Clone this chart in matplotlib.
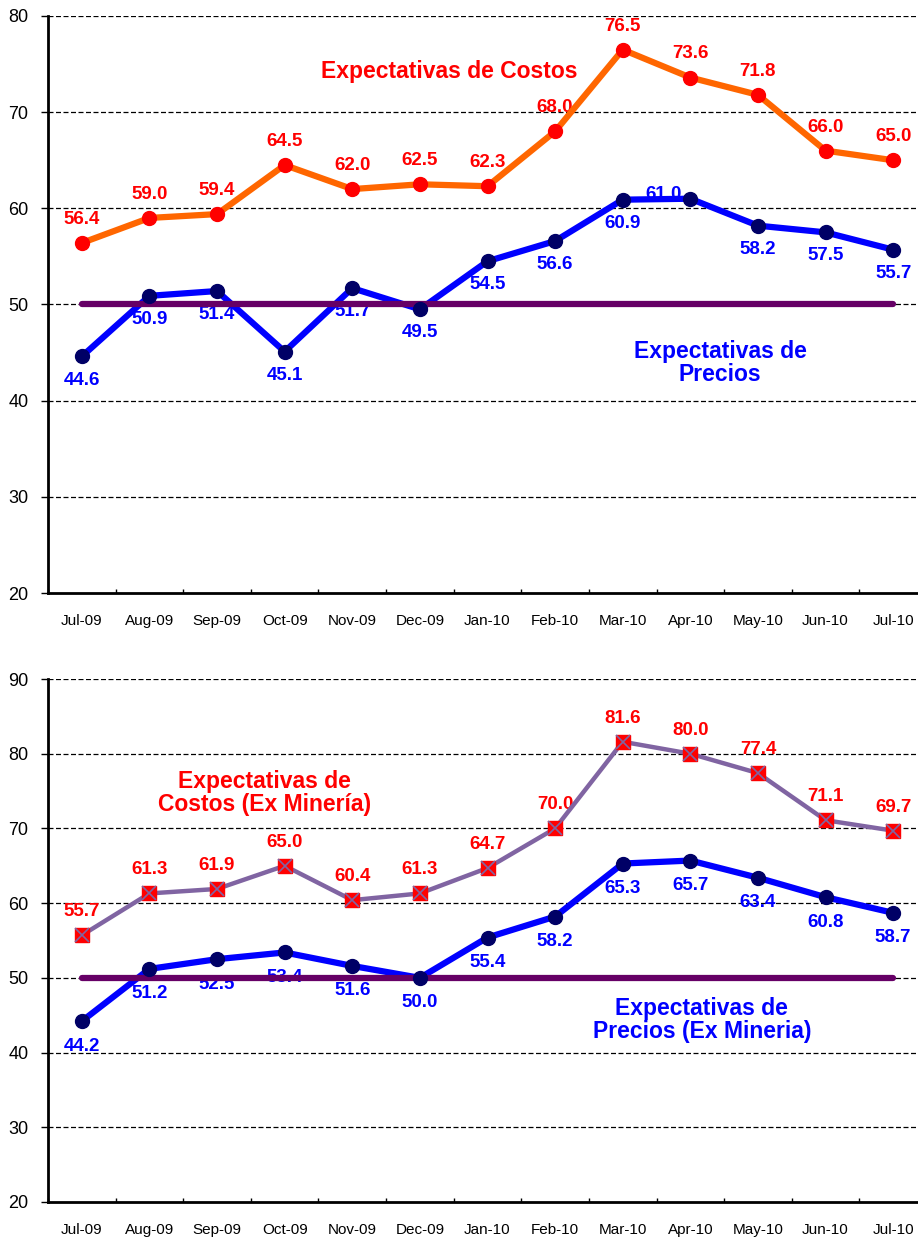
import matplotlib

matplotlib.use("Agg")
import matplotlib.pyplot as plt
import numpy as np

plt.rcParams["font.family"] = ["Liberation Sans", "DejaVu Sans"]

MONTHS = ["Jul-09", "Aug-09", "Sep-09", "Oct-09", "Nov-09", "Dec-09", "Jan-10",
          "Feb-10", "Mar-10", "Apr-10", "May-10", "Jun-10", "Jul-10"]

COSTOS = [56.4, 59.0, 59.4, 64.5, 62.0, 62.5, 62.3, 68.0, 76.5, 73.6, 71.8, 66.0, 65.0]
PRECIOS = [44.6, 50.9, 51.4, 45.1, 51.7, 49.5, 54.5, 56.6, 60.9, 61.0, 58.2, 57.5, 55.7]

COSTOS_EXMIN = [55.7, 61.3, 61.9, 65.0, 60.4, 61.3, 64.7, 70.0, 81.6, 80.0, 77.4, 71.1, 69.7]
PRECIOS_EXMIN = [44.2, 51.2, 52.5, 53.4, 51.6, 50.0, 55.4, 58.2, 65.3, 65.7, 63.4, 60.8, 58.7]

NEUTRAL = 50

RED = "#FF0000"
BLUE = "#0000FF"
NAVY = "#000066"
ORANGE = "#FF6600"
LAVENDER = "#8064A2"
PLUM = "#660066"


def setup_axis(ax, ymin, ymax):
    n = len(MONTHS)
    ax.set_xlim(-0.5, n - 0.5)
    ax.set_ylim(ymin, ymax)
    ax.set_yticks(np.arange(ymin, ymax + 1, 10))
    ax.set_xticks(np.arange(n + 1) - 0.5)
    ax.set_xticklabels([])
    ax.set_xticks(np.arange(n), minor=True)
    ax.set_xticklabels(MONTHS, minor=True, fontsize=11)
    ax.tick_params(axis="x", which="minor", length=0, pad=15)
    ax.tick_params(axis="x", which="major", length=3, direction="in", width=1)
    ax.tick_params(axis="y", length=5, width=1, labelsize=13, pad=9)
    for side in ("top", "right"):
        ax.spines[side].set_visible(False)
    ax.spines["left"].set_linewidth(2)
    ax.spines["bottom"].set_linewidth(2)
    for y in np.arange(ymin + 10, ymax + 1, 10):
        ax.axhline(y, color="black", linestyle=(0, (4, 2)), linewidth=0.9, zorder=0)


def label_points(ax, values, color, dy, special=None):
    special = special or {}
    for i, v in enumerate(values):
        off = special.get(i, (0, dy))
        ax.annotate(f"{v:.1f}", (i, v), xytext=off, textcoords="offset points",
                    ha="center", va="center", color=color, fontsize=13.5,
                    fontweight="bold", zorder=1)


fig = plt.figure(figsize=(9.18, 12.37), dpi=100)
x = np.arange(len(MONTHS))

# ---- panel superior
ax1 = fig.add_axes([48 / 918, 1 - 593 / 1237, 879 / 918, 577 / 1237])
setup_axis(ax1, 20, 80)
ax1.plot(x, COSTOS, color=ORANGE, linewidth=4.5, zorder=2)
ax1.plot(x, COSTOS, linestyle="none", marker="o", markersize=10,
         color=RED, zorder=4)
ax1.plot(x, PRECIOS, color=BLUE, linewidth=4.5, zorder=2)
ax1.plot(x, [NEUTRAL] * len(x), color=PLUM, linewidth=4.5, zorder=3,
         solid_capstyle="round")
ax1.plot(x, PRECIOS, linestyle="none", marker="o", markersize=10,
         color=NAVY, zorder=4)
label_points(ax1, COSTOS, RED, 17)
label_points(ax1, PRECIOS, BLUE, -17, special={9: (-19, 3)})
ax1.text(5.43, 74.2, "Expectativas de Costos", color=RED, fontsize=16.5,
         fontweight="bold", ha="center", va="center")
ax1.text(9.44, 43.9, "Expectativas de\nPrecios", color=BLUE, fontsize=16.5,
         fontweight="bold", ha="center", va="center", linespacing=1.0)

# ---- panel inferior
ax2 = fig.add_axes([48 / 918, 1 - 1202 / 1237, 879 / 918, 523 / 1237])
setup_axis(ax2, 20, 90)
ax2.plot(x, COSTOS_EXMIN, color=LAVENDER, linewidth=3.2, zorder=2)
ax2.plot(x, COSTOS_EXMIN, linestyle="none", marker="s", markersize=10,
         color=RED, zorder=4)
ax2.plot(x, COSTOS_EXMIN, linestyle="none", marker="x", markersize=10,
         color=LAVENDER, markeredgewidth=1.2, zorder=5)
ax2.plot(x, PRECIOS_EXMIN, color=BLUE, linewidth=4.5, zorder=2)
ax2.plot(x, [NEUTRAL] * len(x), color=PLUM, linewidth=4.5, zorder=3,
         solid_capstyle="round")
ax2.plot(x, PRECIOS_EXMIN, linestyle="none", marker="o", markersize=10,
         color=NAVY, zorder=4)
label_points(ax2, COSTOS_EXMIN, RED, 17)
label_points(ax2, PRECIOS_EXMIN, BLUE, -18)
ax2.text(2.7, 74.8, "Expectativas de\nCostos (Ex Minería)", color=RED,
         fontsize=16.5, fontweight="bold", ha="center", va="center",
         linespacing=1.0)
ax2.text(9.17, 44.3, "Expectativas de\nPrecios (Ex Mineria)", color=BLUE,
         fontsize=16.5, fontweight="bold", ha="center", va="center",
         linespacing=1.0)

fig.savefig("out.png", dpi=100)
